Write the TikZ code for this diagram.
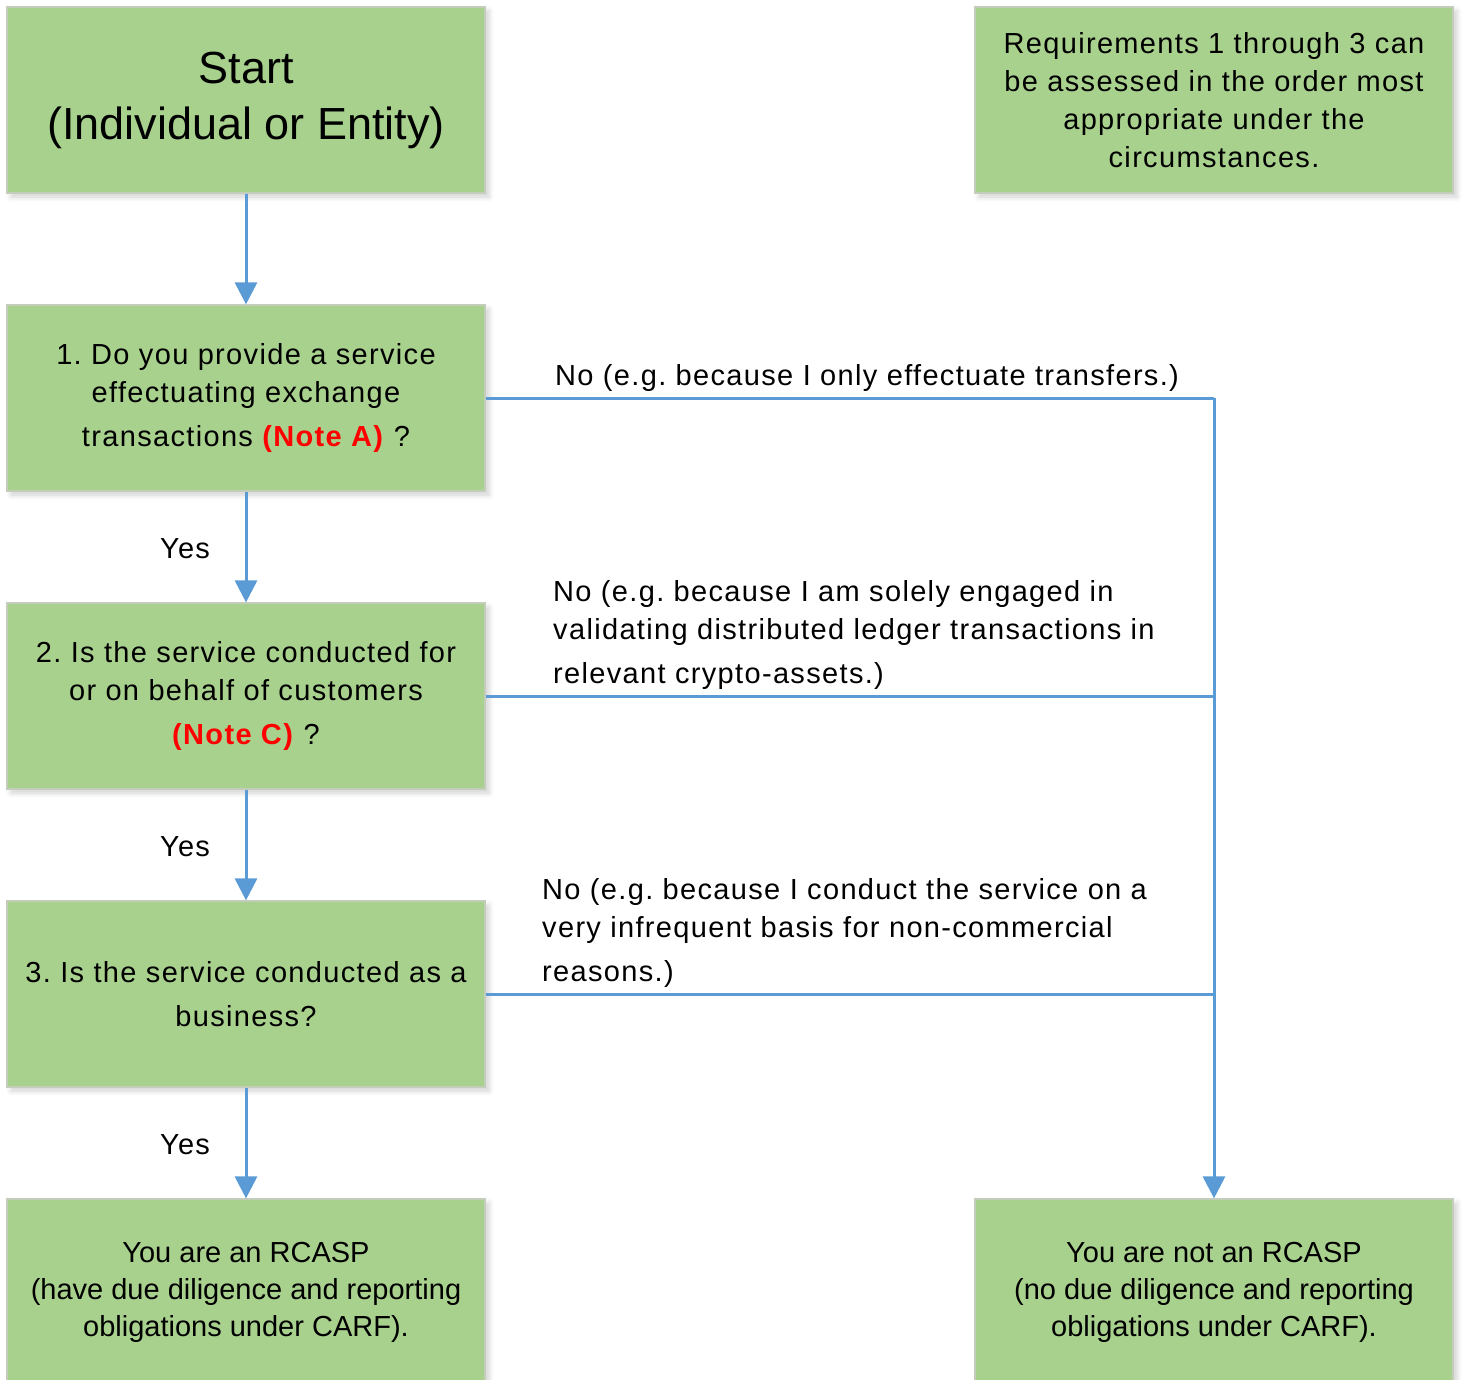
\documentclass[tikz,border=0pt]{standalone}
\usepackage{fontspec}
\setmainfont{Liberation Sans}
\newfontfamily\spacedfont[LetterSpace=4.6]{Liberation Sans}
\usetikzlibrary{arrows.meta,shadows.blur}
\definecolor{boxgreen}{HTML}{A9D18E}
\definecolor{boxedge}{HTML}{C4CCBC}
\definecolor{linkblue}{HTML}{5B9BD5}
\definecolor{notered}{HTML}{FF0000}
\frenchspacing
\begin{document}
\begin{tikzpicture}[x=1pt,y=-1pt,
  box/.style={draw=boxedge, line width=1.2pt, fill=boxgreen, minimum width=478pt, minimum height=186pt,
    inner sep=0pt, align=center, font=\spacedfont\fontsize{29}{38}\selectfont,
    blur shadow={shadow xshift=4pt, shadow yshift=-4pt, shadow blur steps=6, shadow opacity=18, shadow blur radius=5pt}},
  link/.style={draw=linkblue, line width=3pt},
  arr/.style={link, -{Triangle[width=22pt,length=22pt]}},
  lbl/.style={font=\spacedfont\fontsize{29}{38}\selectfont, align=left, inner sep=0pt}
]
\useasboundingbox (0,0) rectangle (1463,1380);
\clip (0,0) rectangle (1463,1380);

\node[box, font=\normalfont\fontsize{45}{56}\selectfont] (start) at (246,100) {Start\\(Individual or Entity)};
\node[box] (req) at (1214,100) {Requirements 1 through 3 can\\be assessed in the order most\\appropriate under the\\circumstances.};
\node[box] (q1) at (246,398) {1. Do you provide a service\\effectuating exchange\\[6pt]transactions \textcolor{notered}{\textbf{(Note A)}} ?};
\node[box] (q2) at (246,696) {2. Is the service conducted for\\or on behalf of customers\\[6pt]\textcolor{notered}{\textbf{(Note C)}} ?};
\node[box] (q3) at (246,994) {3. Is the service conducted as a\\[6pt]business?};
\node[box, font=\normalfont\fontsize{29}{37}\selectfont] (yesbox) at (246,1292) {You are an RCASP\\(have due diligence and reporting\\obligations under CARF).};
\node[box, font=\normalfont\fontsize{29}{37}\selectfont] (nobox) at (1214,1292) {You are not an RCASP\\(no due diligence and reporting\\obligations under CARF).};

\draw[arr] (start) -- (q1);
\draw[arr] (q1) -- (q2);
\draw[arr] (q2) -- (q3);
\draw[arr] (q3) -- (yesbox);

\coordinate (j1) at (q1.east -| nobox.north);
\coordinate (j2) at (q2.east -| nobox.north);
\coordinate (j3) at (q3.east -| nobox.north);
\draw[link] (q1.east) -- (j1);
\draw[link] (q2.east) -- (j2);
\draw[link] (q3.east) -- (j3);
\draw[arr] (j1) -- (nobox.north);

\node[lbl] (y1) at (185,549) {Yes};
\node[lbl] (y2) at (185,847) {Yes};
\node[lbl] (y3) at (185,1145) {Yes};

\node[lbl, anchor=base west] (n1) at (555,385.5) {No (e.g. because I only effectuate transfers.)};
\node[lbl, anchor=base west] (n2) at (553,683.5) {No (e.g. because I am solely engaged in\\validating distributed ledger transactions in\\[6pt]relevant crypto-assets.)};
\node[lbl, anchor=base west] (n3) at (542,981.5) {No (e.g. because I conduct the service on a\\very infrequent basis for non-commercial\\[6pt]reasons.)};
\end{tikzpicture}
\end{document}
